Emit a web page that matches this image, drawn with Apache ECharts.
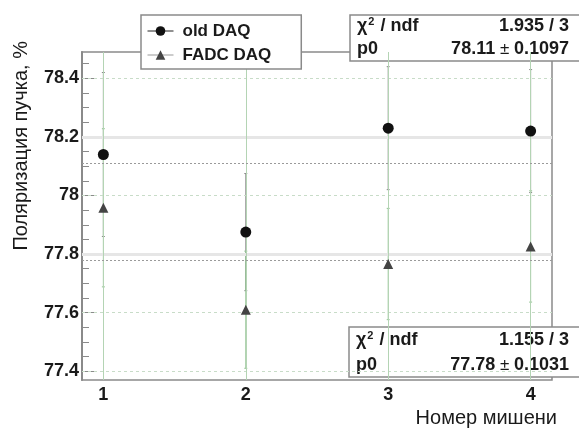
<!DOCTYPE html>
<html><head><meta charset="utf-8">
<script src="https://cdn.jsdelivr.net/npm/echarts@6/dist/echarts.min.js"></script>
<style>html,body{margin:0;padding:0;background:#fff}#c{width:579px;height:430px}</style>
</head><body><div id="c"></div>
<script>
// ---- data ----
const targets = [1, 2, 3, 4];
const oldDAQ = [78.14, 77.875, 78.23, 78.22];
const oldErr = [0.28, 0.2, 0.21, 0.21];
const fadcDAQ = [77.958, 77.61, 77.766, 77.826];
const fadcErr = [0.27, 0.2, 0.19, 0.19];
const fitOld = 78.11;
const fitFadc = 77.78;
const yTicks = [77.4, 77.6, 77.8, 78, 78.2, 78.4];
const yMinorTicks = [77.4, 77.45, 77.5, 77.55, 77.6, 77.65, 77.7, 77.75, 77.8, 77.85, 77.9, 77.95, 78, 78.05, 78.1, 78.15, 78.2, 78.25, 78.3, 78.35, 78.4, 78.45];
const xTicks = [1, 2, 3, 4];
const statsOld = ['1.935 / 3', '78.11', '0.1097'];
const statsFadc = ['1.155 / 3', '77.78', '0.1031'];

const FONT = '"Liberation Sans", Arial, Helvetica, sans-serif';
const TXT = '#1a1a1a';

const chart = echarts.init(document.getElementById('c'), null, {renderer: 'canvas'});

function hLines(vals, style, z) {
  return {type: 'line', data: [], z: z, silent: true, showSymbol: false,
    markLine: {silent: true, symbol: ['none', 'none'], label: {show: false}, animation: false,
      lineStyle: style, emphasis: {disabled: true},
      data: vals.map(v => ({yAxis: v}))}};
}
function vLines(vals, style, z) {
  return {type: 'line', data: [], z: z, silent: true, showSymbol: false,
    markLine: {silent: true, symbol: ['none', 'none'], label: {show: false}, animation: false,
      lineStyle: style, emphasis: {disabled: true},
      data: vals.map(v => ({xAxis: v}))}};
}
function errSeries(vals, errs, color, z) {
  return {type: 'custom', z: z, silent: true,
    data: targets.map((t, i) => [t, vals[i] - errs[i], vals[i] + errs[i]]),
    encode: {x: 0, y: [1, 2]},
    renderItem: (p, api) => {
      const lo = api.coord([api.value(0), api.value(1)]);
      const hi = api.coord([api.value(0), api.value(2)]);
      const st = {stroke: color, lineWidth: 1};
      return {type: 'group', children: [
        {type: 'line', shape: {x1: lo[0], y1: lo[1], x2: hi[0], y2: hi[1]}, style: st},
        {type: 'line', shape: {x1: lo[0] - 1.5, y1: lo[1], x2: lo[0] + 1.5, y2: lo[1]}, style: st},
        {type: 'line', shape: {x1: hi[0] - 1.5, y1: hi[1], x2: hi[0] + 1.5, y2: hi[1]}, style: st}
      ]};
    }};
}
function statsBox(x, y, w, h, r1, r2, s) {
  const bold = {fontFamily: FONT, fontWeight: 'bold', fontSize: 18, fill: TXT};
  return {type: 'group', z: 100, children: [
    {type: 'rect', shape: {x: x, y: y, width: w, height: h}, style: {fill: '#fff', stroke: '#8a8a8a', lineWidth: 1.5}},
    {type: 'text', x: x + 7, y: r1, style: {text: '{c|χ}{s|2}{c| / ndf}', verticalAlign: 'middle', fill: TXT,
      rich: {c: bold, s: {fontFamily: FONT, fontSize: 11, fontWeight: 'bold', fill: TXT, verticalAlign: 'top', padding: [0, 1, 9, 1]}}}},
    {type: 'text', x: 569, y: r1, style: Object.assign({text: s[0], align: 'right', verticalAlign: 'middle'}, bold)},
    {type: 'text', x: x + 7, y: r2, style: Object.assign({text: 'p0', verticalAlign: 'middle'}, bold)},
    {type: 'text', x: 569, y: r2, style: {text: '{b|' + s[1] + '}{pm| ± }{b|' + s[2] + '}', align: 'right', verticalAlign: 'middle', fill: TXT,
      rich: {b: bold, pm: {fontFamily: FONT, fontSize: 17, fill: TXT}}}}
  ]};
}

const option = {
  animation: false,
  textStyle: {fontFamily: FONT},
  grid: {left: 82, right: 27, top: 52, bottom: 50, show: true, borderColor: '#8a8a8a', borderWidth: 1.5, backgroundColor: 'transparent'},
  xAxis: {type: 'value', min: 0.85, max: 4.15,
    axisLine: {show: false},
    axisTick: {show: true, inside: true, length: 8, customValues: xTicks, lineStyle: {color: '#8a8a8a'}},
    axisLabel: {customValues: xTicks, margin: 6, fontFamily: FONT, fontWeight: 'bold', fontSize: 18, color: TXT},
    splitLine: {show: false}},
  yAxis: [
    {type: 'value', min: 77.37, max: 78.49,
      axisLine: {show: true, lineStyle: {color: '#8a8a8a', width: 2}},
      axisTick: {show: true, inside: true, length: 14, customValues: yTicks, lineStyle: {color: '#8a8a8a'}},
      axisLabel: {customValues: yTicks, margin: 3, fontFamily: FONT, fontWeight: 'bold', fontSize: 18, color: TXT},
      splitLine: {show: false}},
    {type: 'value', min: 77.37, max: 78.49, position: 'left',
      axisLine: {show: false},
      axisTick: {show: true, inside: true, length: 7, customValues: yMinorTicks, lineStyle: {color: '#8a8a8a'}},
      axisLabel: {show: false}, splitLine: {show: false}}
  ],
  legend: {orient: 'vertical', left: 141, top: 15, padding: [6, 30, 4, 6], itemGap: 4,
    itemWidth: 26, itemHeight: 12, backgroundColor: '#fff', borderColor: '#8a8a8a', borderWidth: 1.5,
    z: 100, selectedMode: false,
    textStyle: {fontFamily: FONT, fontWeight: 'bold', fontSize: 17, color: TXT, lineHeight: 20, padding: [0, 0, 0, 4]},
    data: [
      {name: 'old DAQ', lineStyle: {color: '#222', width: 1, opacity: 1}},
      {name: 'FADC DAQ', lineStyle: {color: '#999', width: 1, opacity: 1}}
    ]},
  graphic: [
    statsBox(350, 15, 240, 46, 26, 49, statsOld),
    statsBox(349, 327, 240, 50, 340, 365, statsFadc),
    {type: 'text', z: 100, x: 21, y: 41, rotation: Math.PI / 2,
      style: {text: 'Поляризация пучка, %', align: 'right', verticalAlign: 'middle', fontFamily: FONT, fontSize: 20, fill: TXT}},
    {type: 'text', z: 100, x: 557, y: 418,
      style: {text: 'Номер мишени', align: 'right', verticalAlign: 'middle', fontFamily: FONT, fontSize: 20, fill: TXT}}
  ],
  series: [
    hLines(yTicks, {color: '#c8dcc8', width: 1, type: [3, 3]}, 1),
    hLines([78.2, 77.8], {color: '#e6e6e6', width: 3, type: 'solid'}, 1),
    vLines(xTicks, {color: '#b4d4b4', width: 1, type: 'solid'}, 1),
    hLines([fitOld, fitFadc], {color: '#9a9a9a', width: 1, type: [2, 2]}, 2),
    errSeries(oldDAQ, oldErr, '#8a8a8a', 3),
    errSeries(fadcDAQ, fadcErr, '#93c493', 4),
    {name: 'old DAQ', type: 'line', z: 5, data: targets.map((t, i) => [t, oldDAQ[i]]),
      symbol: 'circle', symbolSize: 11, showSymbol: true,
      itemStyle: {color: '#111'}, lineStyle: {opacity: 0}},
    {name: 'FADC DAQ', type: 'line', z: 5, data: targets.map((t, i) => [t, fadcDAQ[i]]),
      symbol: 'triangle', symbolSize: 10, showSymbol: true,
      itemStyle: {color: '#444'}, lineStyle: {opacity: 0}}
  ]
};
chart.setOption(option);
</script>
</body></html>
